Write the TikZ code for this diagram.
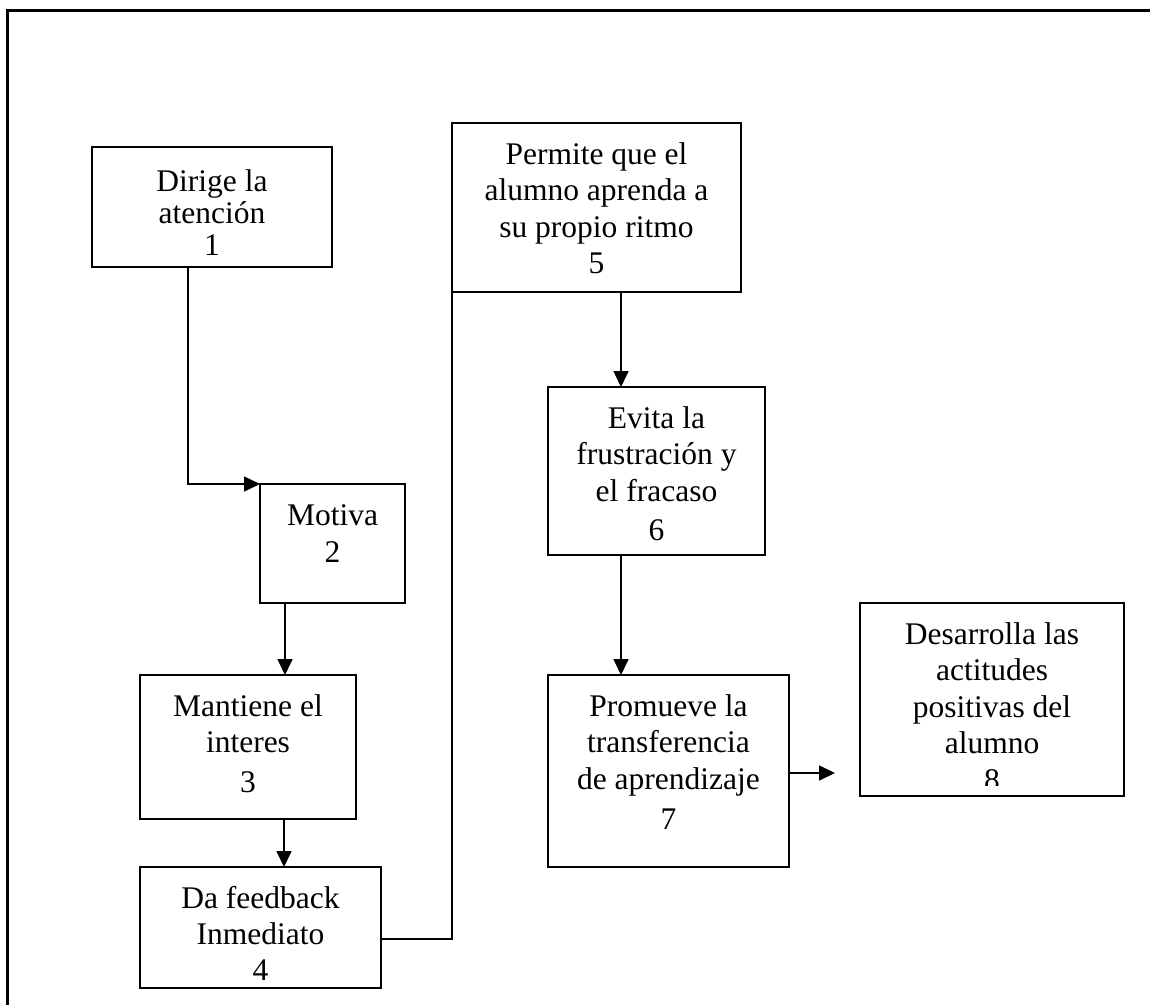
\documentclass[tikz,border=0pt]{standalone}
\usepackage{fontspec}
\setmainfont{Liberation Serif}
\usetikzlibrary{arrows.meta}
\newcommand{\bxt}[4][41pt]{\parbox[c][#3][t]{#2}{\centering\fontsize{31.5}{36.5}\selectfont\lineskiplimit=-100pt\lineskip=0pt\rule{0pt}{#1}#4\par}}
\tikzset{
  box/.style={draw, line width=1.6pt, inner sep=0pt, outer sep=0pt},
  conn/.style={line width=1.6pt},
  arr/.style={conn, -{Triangle[length=16pt,width=15pt]}}
}
\begin{document}
\begin{tikzpicture}[x=1pt,y=-1pt]
\useasboundingbox (0,0) rectangle (1150,1005);
\draw[line width=3pt] (7.5,1005) -- (7.5,10.5) -- (1150,10.5);

\node[box] (b1) at (212,207) {\bxt[44pt]{240pt}{120pt}{Dirige la\\[-4.5pt]atención\\[-4.5pt]1}};
\node[box] (b2) at (332.5,543.5) {\bxt{145pt}{119pt}{Motiva\\[0.5pt]2}};
\node[box] (b3) at (248,747) {\bxt{216pt}{144pt}{Mantiene el\\interes\\[3.5pt]3}};
\node[box] (b4) at (260.5,927.5) {\bxt{241pt}{121pt}{Da feedback\\Inmediato\\[-1pt]4}};
\node[box] (b5) at (596.5,207.5) {\bxt{289pt}{169pt}{Permite que el\\alumno aprenda a\\su propio ritmo\\5}};
\node[box] (b6) at (656.5,471) {\bxt{217pt}{168pt}{Evita la\\frustración y\\el fracaso\\[2.5pt]6}};
\node[box] (b7) at (668.5,771) {\bxt{241pt}{192pt}{Promueve la\\transferencia\\de aprendizaje\\[3.5pt]7}};
\begin{scope}
\clip (862,605) rectangle (1122,785);
\node[inner sep=0pt] (t8) at (992,699.5) {\bxt{264pt}{193pt}{Desarrolla las\\actitudes\\positivas del\\alumno\\8}};
\end{scope}
\node[box, minimum width=264pt, minimum height=193pt] (b8) at (992,699.5) {};

\coordinate (s1) at ([xshift=-24pt]b1.south);
\draw[arr] (s1) |- (b2.north west);
\coordinate (s2) at ([xshift=-47.5pt]b2.south);
\draw[arr] (s2) -- (s2 |- b3.north);
\coordinate (s3) at ([xshift=36pt]b3.south);
\draw[arr] (s3) -- (s3 |- b4.north);
\draw[conn] ([yshift=-11.5pt]b4.east) -| (b5.south west);
\coordinate (s5) at ([xshift=24.5pt]b5.south);
\draw[arr] (s5) -- (s5 |- b6.north);
\coordinate (s6) at ([xshift=-35.5pt]b6.south);
\draw[arr] (s6) -- (s6 |- b7.north);
\coordinate (e8) at (835,773);
\draw[arr] (b7.east |- e8) -- (e8);
\end{tikzpicture}
\end{document}
